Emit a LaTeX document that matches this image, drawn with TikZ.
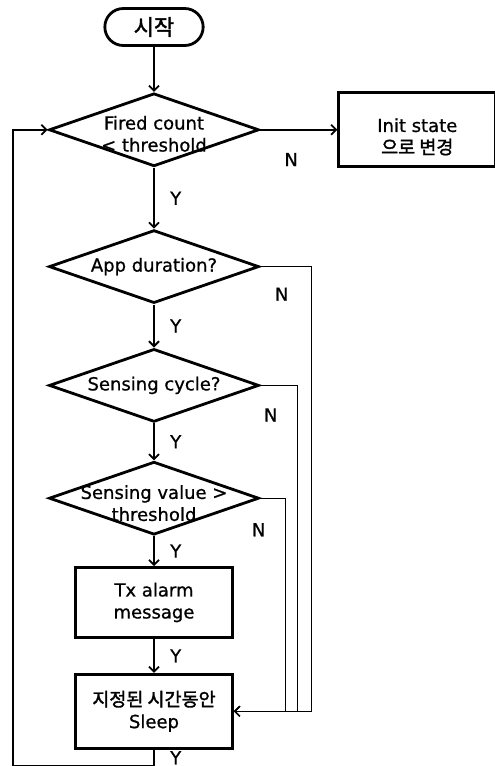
\documentclass[tikz,border=0pt]{standalone}
\usepackage{fontspec}
\setmainfont{DejaVu Sans}[FakeBold=0.8]
\newfontfamily\kr{Noto Sans CJK KR}[FakeBold=1.8]
\usetikzlibrary{positioning, shapes.geometric, shapes.misc, arrows.meta}

\begin{document}
\begin{tikzpicture}[x=1pt, y=-1pt, font=\fontsize{18}{22}\selectfont,
  term/.style = {draw, rounded rectangle, line width=2.8pt, minimum width=105pt, minimum height=37pt},
  decision/.style = {draw, diamond, line width=2.8pt, inner sep=0pt, minimum width=210pt, minimum height=73pt},
  box/.style = {draw, rectangle, line width=2.8pt, align=center, minimum width=157pt},
  flow/.style = {line width=1.8pt, -{Straight Barb[length=5pt, width=10pt]}},
  back/.style = {line width=1.3pt, -{Straight Barb[length=5pt, width=10pt]}}]
\useasboundingbox (0,0) rectangle (495,766);
\node[term] (1) at (154,27) {\kr\fontsize{22}{24}\selectfont 시작};
\node[decision, label={[align=center, yshift=-4pt]center:Fired count\\< threshold}] (2) [below=45pt of 1] {};
\node[box, minimum height=74pt, label={[align=center, yshift=-7pt]center:Init state\\{\kr\fontsize{18.5}{22}\selectfont 으로 변경}}] (3) [right=77pt of 2] {};
\node[decision, label={center:App duration?}] (4) [below=61pt of 2] {};
\node[decision, label={center:Sensing cycle?}] (5) [below=43pt of 4] {};
\node[decision, label={[align=center, yshift=-5pt]center:Sensing value >\\threshold}] (6) [below=37pt of 5] {};
\node[box, minimum height=70pt] (7) [below=30pt of 6] {Tx alarm\\message};
\node[box, minimum height=74pt] (8) [below=34pt of 7] {{\kr\fontsize{18.5}{22}\selectfont 지정된 시간동안}\\Sleep};
\coordinate (9) at ([xshift=-35pt]2.west);
\draw[flow] (1) -- (2);
\draw[flow] (2) -- node[pos=.4, below=19pt] {N} (3);
\draw[flow] (2) -- node[right=12pt] {Y} (4);
\draw[flow] (4) -- node[right=12pt] {Y} (5);
\draw[flow] (5) -- node[right=12pt] {Y} (6);
\draw[flow] (6) -- node[right=12pt] {Y} (7);
\draw[flow] (7) -- node[right=12pt] {Y} (8);
% the N branches all fall back to the sleep box
\draw[back] (4.east) -- ++(51,0) node[below left=17pt and 19pt] {N} |- (8.east);
\draw[back] (5.east) -- ++(37,0) node[below left=19pt and 16pt] {N} |- (8.east);
\draw[back] (6.east) -- ++(25,0) node[below left=21pt and 16pt] {N} |- (8.east);
\draw[flow] (8.south) -- ++(0,16) node[midway, right=12pt] {Y} -| (9) -- (2.west);
\end{tikzpicture}
\end{document}
